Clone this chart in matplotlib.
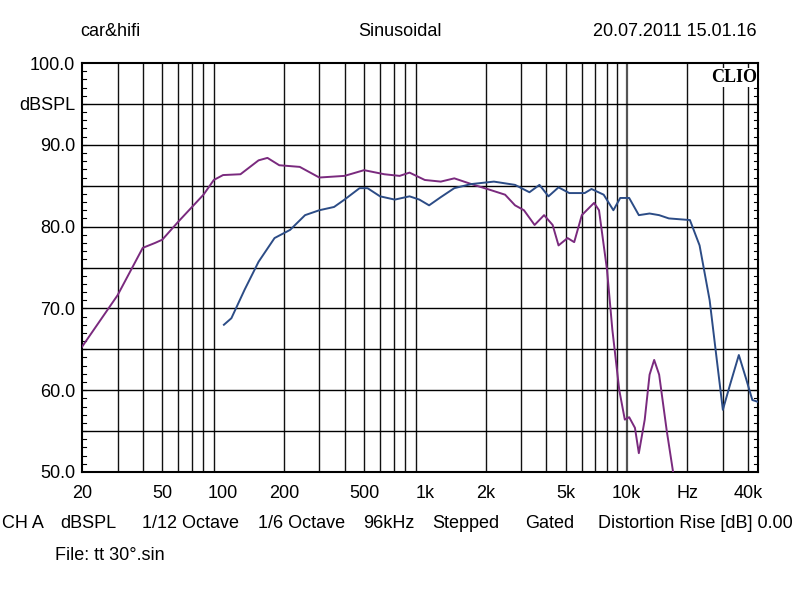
import numpy as np
import matplotlib.pyplot as plt
from matplotlib.ticker import FixedLocator, NullFormatter

plt.rcParams['font.family'] = 'Liberation Sans'

# purple curve (Hz, dB)
f_purple = [20, 30, 40, 46, 50, 60, 80, 90, 100, 122, 150, 166, 190, 240, 300, 400, 500, 630,
            750, 840, 1000, 1200, 1400, 1700, 2100, 2500, 2800, 3100, 3500, 3900, 4300, 4600,
            5100, 5500, 6000, 6900, 7300, 8000, 8500, 9200, 9800, 10300, 11000, 11500, 12300,
            13000, 13700, 14500, 15800, 17000]
db_purple = [65.3, 71.6, 77.4, 78.0, 78.4, 80.6, 83.9, 85.7, 86.3, 86.4, 88.1, 88.4, 87.5, 87.3,
             86.0, 86.2, 86.9, 86.4, 86.2, 86.6, 85.7, 85.5, 85.9, 85.2, 84.5, 83.9, 82.6, 82.0,
             80.2, 81.4, 80.2, 77.7, 78.6, 78.1, 81.4, 82.9, 82.0, 74.7, 67.4, 60.0, 56.4, 56.7,
             55.4, 52.3, 56.4, 61.9, 63.7, 61.9, 55.1, 50.0]

# blue curve (Hz, dB)
f_blue = [101, 110, 128, 150, 180, 215, 255, 300, 355, 400, 475, 520, 600, 710, 840, 940, 1050,
          1200, 1400, 1700, 2200, 2800, 3300, 3700, 4100, 4600, 5200, 6200, 6700, 7700, 8600,
          9300, 10300, 11500, 13000, 14500, 16200, 20600, 23000, 25800, 28000, 30000, 32500,
          36000, 39000, 42000, 44500]
db_blue = [68.0, 68.8, 72.3, 75.7, 78.6, 79.6, 81.4, 82.0, 82.4, 83.3, 84.7, 84.7, 83.7, 83.3,
           83.7, 83.3, 82.6, 83.6, 84.7, 85.2, 85.5, 85.1, 84.2, 85.1, 83.7, 84.8, 84.1, 84.1,
           84.6, 83.9, 82.0, 83.5, 83.5, 81.4, 81.6, 81.4, 81.0, 80.8, 77.7, 71.0, 63.7, 57.6,
           60.6, 64.3, 61.5, 58.8, 58.6]

x_ticks = [20, 50, 100, 200, 500, 1000, 2000, 5000, 10000, 20000, 40000]
x_labels = ['20', '50', '100', '200', '500', '1k', '2k', '5k', '10k', 'Hz', '40k']
y_ticks = [50, 60, 70, 80, 90, 95, 100]
y_labels = ['50.0', '60.0', '70.0', '80.0', '90.0', 'dBSPL', '100.0']

footer = [(2, 'CH A'), (60, 'dBSPL'), (142, '1/12 Octave'), (258, '1/6 Octave'),
          (363, '96kHz'), (432, 'Stepped'), (525, 'Gated'), (598, 'Distortion Rise [dB] 0.00')]

fig = plt.figure(figsize=(8, 5.97), dpi=100)
ax = fig.add_axes([82/800, 1-472/597, 676/800, 409/597])
ax.set_xscale('log')
ax.set_xlim(20, 44800)
ax.set_ylim(50, 100)

# grid lines
grid_f = [f for d in [10, 100, 1000] for f in np.arange(2, 10) * d if f >= 30] + [10000, 20000, 30000, 40000]
for g in grid_f:
    major = g in (100, 1000, 10000)
    ax.axvline(g, color='#555555' if major else '#111111', lw=1.6 if major else 1.0, zorder=1)
for yv in range(55, 100, 5):
    ax.axhline(yv, color='black', lw=1.0, zorder=1)

ax.plot(f_purple, db_purple, color='#7a2a7e', lw=1.4, zorder=3)
ax.plot(f_blue, db_blue, color='#2c4c86', lw=1.4, zorder=3)

ax.xaxis.set_major_locator(FixedLocator(x_ticks))
ax.set_xticklabels(x_labels)
ax.xaxis.set_minor_locator(FixedLocator([]))
ax.xaxis.set_minor_formatter(NullFormatter())
ax.tick_params(axis='x', length=0, labelsize=13, pad=9)
ax.set_yticks(y_ticks)
ax.set_yticklabels(y_labels)
ax.tick_params(axis='y', which='both', length=0, labelsize=13, pad=5)
for yv in range(51, 100):
    ax.plot([0, 0.006], [yv, yv], transform=ax.get_yaxis_transform(), color='black', lw=0.8, clip_on=False)
    ax.plot([0.994, 1], [yv, yv], transform=ax.get_yaxis_transform(), color='black', lw=0.8, clip_on=False)
for s in ax.spines.values():
    s.set_linewidth(1.5)

ax.text(0.998, 0.985, 'CLIO', transform=ax.transAxes, ha='right', va='top',
        fontfamily='Liberation Serif', fontweight='bold', fontsize=13, zorder=5,
        bbox=dict(facecolor='white', edgecolor='none', pad=0.5))

fig.text(80/800, 1-31/597, 'car&hifi', fontsize=13, va='center')
fig.text(400/800, 1-31/597, 'Sinusoidal', fontsize=13, va='center', ha='center')
fig.text(757/800, 1-31/597, '20.07.2011 15.01.16', fontsize=13, va='center', ha='right')
for xp, txt in footer:
    fig.text(xp/800, 1-524/597, txt, fontsize=13, va='center')
fig.text(55/800, 1-556/597, 'File: tt 30°.sin', fontsize=13, va='center')

fig.savefig('out.png', dpi=100)
